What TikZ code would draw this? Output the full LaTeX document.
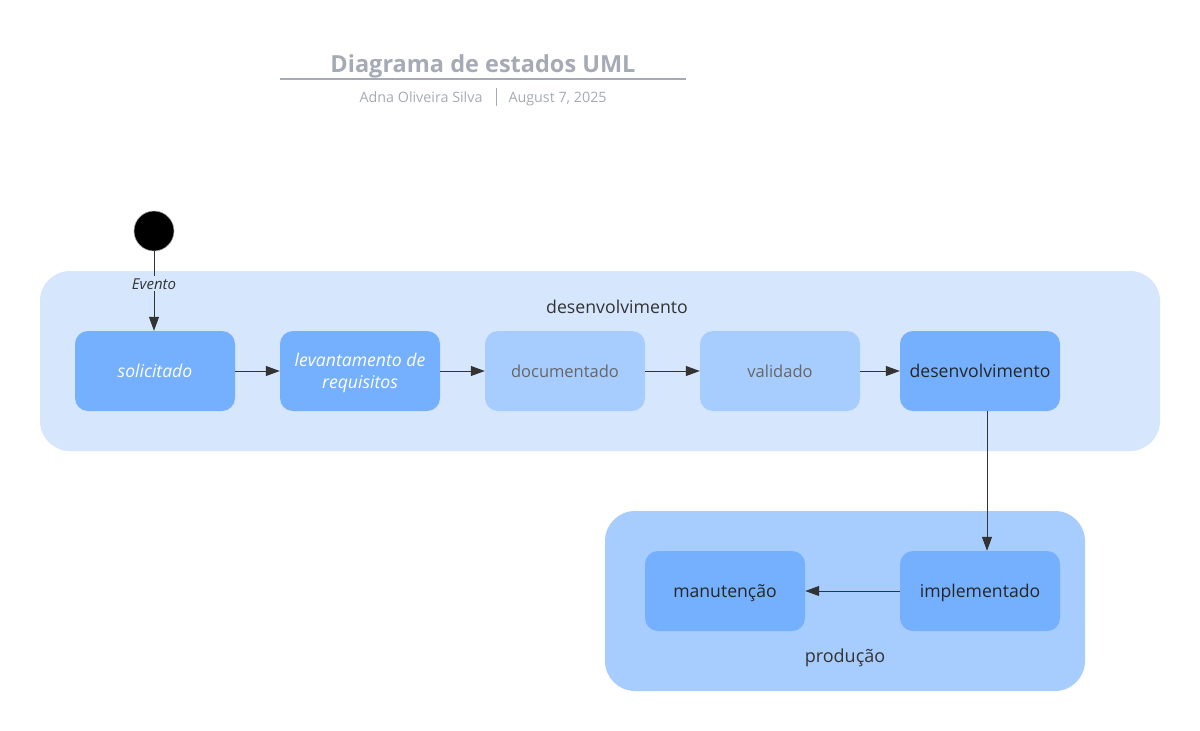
\documentclass[tikz,border=0pt]{standalone}
\usepackage{fontspec}
\setmainfont{Open Sans}
\usetikzlibrary{arrows.meta}
\definecolor{titlegray}{HTML}{A5AAB5}
\definecolor{outerblue}{HTML}{D6E7FD}
\definecolor{lightblue}{HTML}{A6CDFD}
\definecolor{darkblue}{HTML}{74B0FE}
\definecolor{ink}{HTML}{333333}
\tikzset{
  x=1pt, y=-1pt,
  container/.style={fill=#1, draw=none, rounded corners=30pt},
  statebox/.style={fill=#1, draw=none, rounded corners=13pt, minimum width=160pt, minimum height=80pt, inner sep=0pt, align=center, text depth=0pt, font=\fontsize{17.6}{21}\selectfont},
  flow/.style={draw=ink, line width=1pt, -{Triangle[length=14pt,width=10pt]}},
}
\begin{document}
\begin{tikzpicture}
\path[use as bounding box, fill=white] (0,0) rectangle (1200,731);
% title
\node[font=\fontsize{23.5}{28}\selectfont\bfseries, text=titlegray, anchor=base] (title) at (483,72) {Diagrama de estados UML};
\draw[titlegray, line width=1.5pt] (280,79) -- (686,79);
\node[font=\fontsize{14.3}{16}\selectfont, text=titlegray, anchor=base east] (author) at (486,102) {Adna Oliveira Silva};
\draw[titlegray, line width=0.8pt] (496,88) -- (496,106);
\node[font=\fontsize{14.3}{16}\selectfont, text=titlegray, anchor=base west] (date) at (505,102) {August 7, 2025};
% containers
\path[container=outerblue] (40,271) rectangle (1160,451);
\node[font=\fontsize{17.7}{20}\selectfont, text=ink] (lbldev) at (617,307) {desenvolvimento};
\path[container=lightblue] (605,511) rectangle (1085,691);
\node[font=\fontsize{18}{20}\selectfont, text=ink] (lblprod) at (845,658) {produção};
% start
\node[circle, fill=black, draw=gray!70, line width=0.6pt, minimum size=40pt, inner sep=0pt] (start) at (154,231) {};
% states
\node[statebox=darkblue, text=white, font=\fontsize{17.6}{21}\selectfont\itshape] (sol) at (155,371) {solicitado};
\node[statebox=darkblue, text=white, font=\fontsize{17.6}{22}\selectfont\itshape] (lev) at (360,371) {levantamento de\\requisitos};
\node[statebox=lightblue, text=black!60, font=\fontsize{16.5}{20}\selectfont] (doc) at (565,371) {documentado};
\node[statebox=lightblue, text=black!60, font=\fontsize{16.5}{20}\selectfont] (val) at (780,371) {validado};
\node[statebox=darkblue, text=black!85] (dev) at (980,371) {desenvolvimento};
\node[statebox=darkblue, text=black!85] (man) at (725,591) {manutenção};
\node[statebox=darkblue, text=black!85] (imp) at (980,591) {implementado};
% connectors
\draw[flow] (start.south) -- node[pos=0.41, fill=outerblue, inner sep=2pt, font=\fontsize{15}{17}\selectfont\itshape, text=ink] (evento) {Evento} (start.south |- sol.north);
\draw[flow] (sol.east) -- (lev.west);
\draw[flow] (lev.east) -- (doc.west);
\draw[flow] (doc.east) -- (val.west);
\draw[flow] (val.east) -- (dev.west);
\draw[flow] ([xshift=7pt]dev.south) -- ([xshift=7pt]imp.north);
\draw[flow] (imp.west) -- (man.east);
\end{tikzpicture}
\end{document}
